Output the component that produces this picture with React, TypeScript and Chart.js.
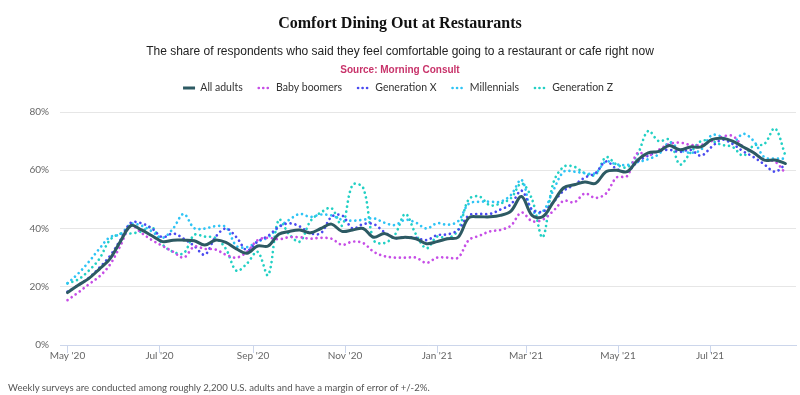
import React, { useEffect, useRef } from "react";
import { Chart, registerables } from "chart.js";

Chart.register(...registerables);

// Days since 1 May 2020, one survey point per week
const DAYS: number[] = Array.from({ length: 69 }, (_, i) => i * 7);

const TICK_DAYS = [0, 61, 123, 184, 245, 304, 365, 426];
const TICK_LABELS = ["May '20", "Jul '20", "Sep '20", "Nov '20", "Jan '21", "Mar '21", "May '21", "Jul '21"];

const ALL_ADULTS = [
  18, 20.5, 22.8, 26, 29.5, 35.5, 41, 39.5, 37.5, 35.5,
  36, 36, 35.8, 34.3, 36, 35.2, 33, 31.5, 34, 34,
  38, 39, 39.5, 38.5, 40, 41.5, 39, 39.5, 40, 37,
  38.3, 36.7, 37, 36.5, 34.8, 35.5, 36.5, 37, 43.7, 44,
  44, 44.5, 46, 51, 44.5, 44, 49, 54, 55, 56,
  55.5, 59.5, 60, 59.5, 63.5, 66, 66.5, 68.5, 67, 68,
  68, 70.5, 71, 70, 68, 66, 63.5, 63.5, 62.3,
];
const BABY_BOOMERS = [
  15.4, 18, 20.8, 23.5, 27.5, 34, 41, 38.5, 36, 34,
  32, 30, 33.8, 33, 32.8, 31, 30, 32, 36, 36.8,
  36.3, 37, 37, 36.5, 36.8, 36.5, 34.4, 35.5, 35, 32,
  30.5, 30, 30, 30, 28.2, 30, 30, 30, 36, 37.5,
  39, 39.5, 41, 45.5, 42.5, 43, 46, 49.5, 49, 52,
  50.5, 52, 57.5, 58, 66, 65, 67, 69, 69.5, 68.7,
  68.7, 70, 71.5, 71.8, 68, 66, 63.5, 63, 59,
];
const GENERATION_X = [
  18.3, 20.5, 23, 26.5, 30.5, 36, 42, 41.8, 40, 37,
  38.3, 36.5, 34, 31, 37, 40, 37, 32.5, 35.5, 37.5,
  40.5, 41.8, 40.7, 38.4, 38.4, 44, 44.5, 40, 41.5, 41.5,
  38.8, 36.8, 37, 36.8, 36, 37.7, 38, 39.5, 44.5, 45,
  45, 46.5, 48.3, 53, 46.5, 45.8, 49, 53, 55, 57.5,
  59, 63, 60.5, 59.5, 63, 65, 66.5, 67, 66.3, 67,
  65, 68, 70.5, 69, 66.5, 64.5, 62, 59.5, 62,
];
const MILLENNIALS = [
  21.2, 24.5, 28.5, 33, 37, 38, 41.5, 41, 39, 36.8,
  40, 45, 40.1, 40, 40.8, 40.5, 34, 33.6, 35.5, 37,
  40.5, 43, 45, 44, 44.8, 44.5, 43, 42.7, 43, 43.5,
  42, 41.2, 43, 42, 40, 41.8, 41.3, 42.5, 48.5, 49.2,
  49.2, 49.2, 51.5, 56.7, 46, 45.8, 53, 59.5, 59.5, 59,
  59, 63, 62, 61.8, 62.8, 63.8, 65.5, 69.5, 67, 66,
  67, 72, 71.5, 69.5, 72.5, 70, 64.5, 64, 64,
];
const GENERATION_Z = [
  21.2, 22.5, 25.5, 29.5, 36, 38.2, 38.3, 39, 40.5, 34.5,
  32, 31.5, 37.8, 37.2, 36.8, 33, 25.5, 28, 32, 24,
  43, 38, 35.5, 42.5, 45.5, 47, 41, 55, 54, 36,
  35, 37.8, 45, 38, 33.2, 37.2, 36.6, 39.5, 50, 51,
  48, 48.6, 50.4, 55.5, 50, 37, 55.5, 61.2, 61.2, 59,
  58.4, 64.5, 62, 61, 65.5, 73.5, 70, 70.5, 62, 66,
  70, 70, 68.7, 68, 65, 68.5, 69, 74.4, 65,
];

const SERIES = [
  { label: "All adults", data: ALL_ADULTS, color: "#2d5a63", dotted: false },
  { label: "Baby boomers", data: BABY_BOOMERS, color: "#c64ee6", dotted: true },
  { label: "Generation X", data: GENERATION_X, color: "#4a4af0", dotted: true },
  { label: "Millennials", data: MILLENNIALS, color: "#2ec4f5", dotted: true },
  { label: "Generation Z", data: GENERATION_Z, color: "#22d0c4", dotted: true },
];

const SANS = "Lato, 'Liberation Sans', sans-serif";

// pushes the plot area down below the legend
const legendGap = {
  id: "legendGap",
  afterInit(chart: any) {
    const legend = chart.legend;
    if (!legend) return;
    const fit = legend.fit.bind(legend);
    legend.fit = function () {
      fit();
      this.height += 8.75;
    };
  },
};

export default function App() {
  const ref = useRef<HTMLCanvasElement | null>(null);

  useEffect(() => {
    if (!ref.current) return;
    const chart = new Chart(ref.current, {
      type: "line",
      data: {
        datasets: SERIES.map((s, si) => ({
          label: s.label,
          data: s.data.map((v, i) => ({ x: DAYS[i], y: v })),
          borderColor: s.color,
          backgroundColor: s.color,
          borderWidth: s.dotted ? 2.7 : 3,
          borderDash: s.dotted ? [0.001, 5] : [],
          borderCapStyle: "round" as const,
          borderJoinStyle: "round" as const,
          pointRadius: 0,
          pointHoverRadius: 0,
          tension: 0.35,
          fill: false,
          order: si,
        })),
      },
      plugins: [legendGap],
      options: {
        animation: false,
        responsive: false,
        maintainAspectRatio: false,
        layout: { padding: { top: 66.75, left: 0, right: 4, bottom: 0 } },
        plugins: {
          legend: {
            display: true,
            position: "top",
            align: "center",
            labels: {
              usePointStyle: true,
              pointStyle: "line",
              pointStyleWidth: 12,
              boxHeight: 10.5,
              padding: 16,
              color: "#333",
              font: { family: SANS, size: 10.5 },
              generateLabels: (chart: any) => {
                const items = (Chart.defaults.plugins.legend.labels as any).generateLabels(chart);
                return items.map((it: any, i: number) => ({
                  ...it,
                  pointStyle: "line",
                  strokeStyle: SERIES[i].color,
                  fillStyle: SERIES[i].color,
                  lineWidth: SERIES[i].dotted ? 2.7 : 3,
                  lineDash: SERIES[i].dotted ? [0.001, 4.5] : [],
                  lineCap: SERIES[i].dotted ? "round" : "butt",
                }));
              },
            },
          },
          title: { display: false },
          tooltip: { enabled: false },
        },
        scales: {
          x: {
            type: "linear",
            min: -5,
            max: 483,
            afterFit: (scale: any) => {
              scale.height = 50;
            },
            afterBuildTicks: (scale: any) => {
              scale.ticks = TICK_DAYS.map((v) => ({ value: v }));
            },
            ticks: {
              autoSkip: false,
              maxRotation: 0,
              padding: -3,
              color: "#666",
              font: { family: SANS, size: 10 },
              callback: (_v: any, i: number) => TICK_LABELS[i],
            },
            grid: {
              drawOnChartArea: false,
              drawTicks: true,
              tickLength: 8,
              color: "#ccd6eb",
            },
            border: { display: true, color: "#ccd6eb", width: 1 },
          },
          y: {
            min: 0,
            max: 80,
            afterFit: (scale: any) => {
              scale.width = 60;
            },
            ticks: {
              stepSize: 20,
              padding: 11,
              color: "#666",
              font: { family: SANS, size: 10 },
              callback: (v: any) => `${v}%`,
            },
            grid: { color: "#e6e6e6", drawTicks: false, lineWidth: 1 },
            border: { display: false },
          },
        },
      },
    });
    return () => chart.destroy();
  }, []);

  return (
    <div style={{ position: "fixed", left: 0, top: 0, width: 800, height: 395, background: "#fff", overflow: "hidden" }}>
      <canvas ref={ref} width={800} height={395} style={{ position: "absolute", left: 0, top: 0, width: 800, height: 395 }} />
      <div style={{ position: "absolute", left: 0, top: 12, width: 800, textAlign: "center", fontFamily: "'Liberation Serif', serif", fontWeight: 700, fontSize: 16, lineHeight: "22px", color: "#111" }}>
        Comfort Dining Out at Restaurants
      </div>
      <div style={{ position: "absolute", left: 0, top: 43, width: 800, textAlign: "center", fontFamily: "'Liberation Sans', Arial, sans-serif", fontSize: 12, lineHeight: "16px", color: "#222" }}>
        The share of respondents who said they feel comfortable going to a restaurant or cafe right now
      </div>
      <div style={{ position: "absolute", left: 0, top: 64, width: 800, textAlign: "center", fontFamily: "'Liberation Sans', Arial, sans-serif", fontWeight: 700, fontSize: 10, lineHeight: "12px", color: "#c8336a" }}>
        Source: Morning Consult
      </div>
      <div style={{ position: "absolute", left: 8, top: 381, fontFamily: SANS, fontSize: 9.6, lineHeight: "14px", color: "#555" }}>
        Weekly surveys are conducted among roughly 2,200 U.S. adults and have a margin of error of +/-2%.
      </div>
    </div>
  );
}
